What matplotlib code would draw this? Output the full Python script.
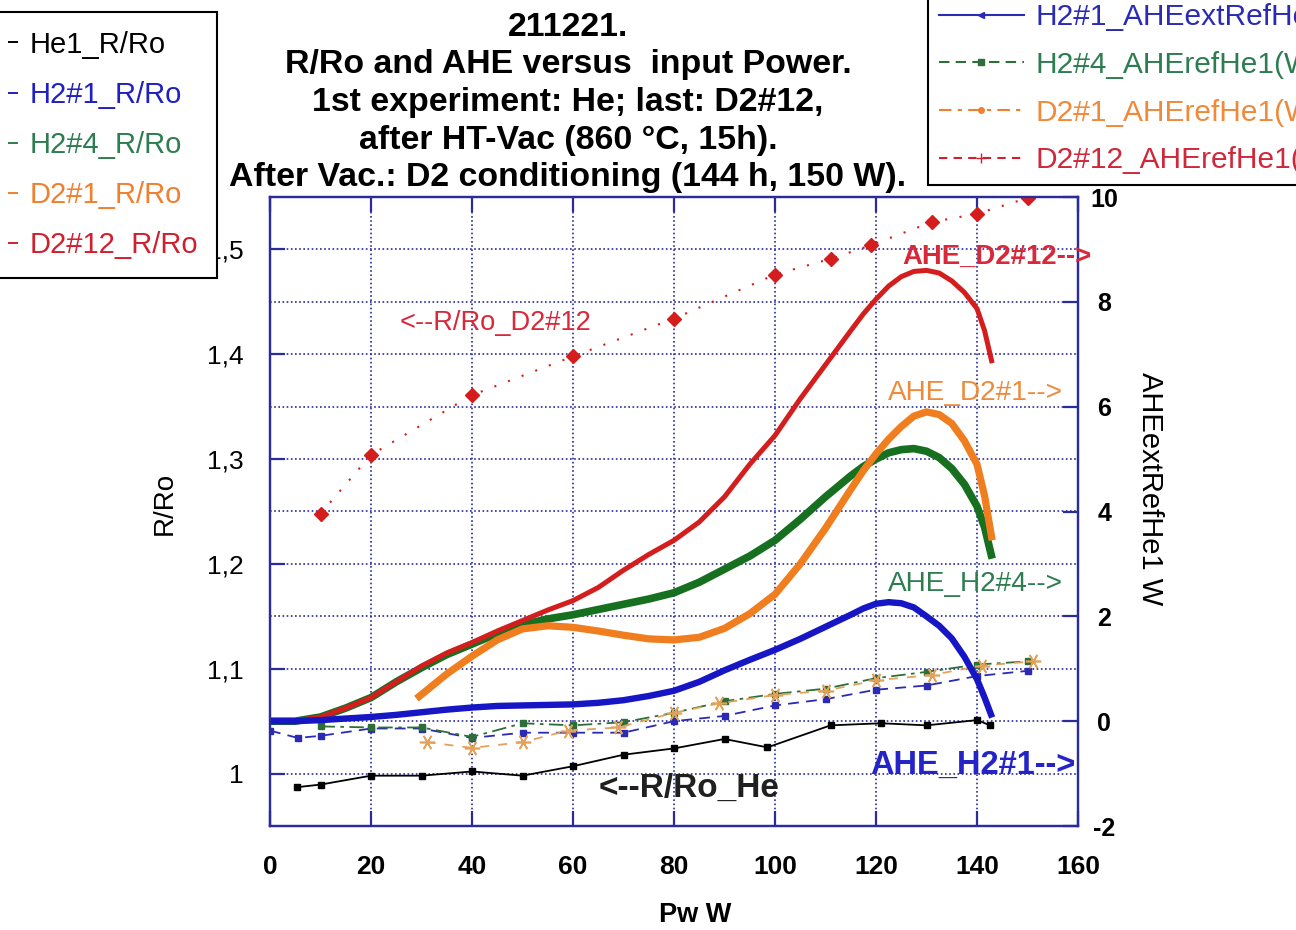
import matplotlib
matplotlib.use("Agg")
import matplotlib.pyplot as plt
from matplotlib.lines import Line2D
from matplotlib.ticker import MultipleLocator, FuncFormatter

plt.rcParams["font.family"] = ["Liberation Sans", "DejaVu Sans"]
plt.rcParams["axes.unicode_minus"] = False

# R/Ro (left axis)
pw_he = [5.3, 10, 20, 30, 40, 50, 60, 70, 80, 90, 98.5, 111, 121, 130, 140, 142.6]
rr_he = [0.987, 0.9895, 0.998, 0.998, 1.002, 0.998, 1.007, 1.018, 1.024, 1.033, 1.025,
         1.046, 1.048, 1.046, 1.051, 1.046]

pw_h2_1 = [0, 5.5, 10, 20, 30, 40, 50, 60, 70, 80, 90, 100, 110, 120, 130, 140, 150]
rr_h2_1 = [1.041, 1.034, 1.036, 1.043, 1.043, 1.034, 1.039, 1.039, 1.039, 1.050, 1.055,
           1.065, 1.071, 1.080, 1.084, 1.093, 1.098]

pw_h2_4 = [10, 20, 30, 40, 50, 60, 70, 80, 90, 100, 110, 120, 130, 140, 150]
rr_h2_4 = [1.045, 1.044, 1.044, 1.035, 1.048, 1.046, 1.049, 1.058, 1.069, 1.076, 1.081,
           1.091, 1.097, 1.104, 1.107]

pw_d2_1 = [31, 40, 50, 59, 69, 80, 89, 100, 110, 120, 131, 141, 151]
rr_d2_1 = [1.030, 1.0245, 1.030, 1.041, 1.044, 1.058, 1.067, 1.075, 1.079, 1.089, 1.094,
           1.103, 1.107]

pw_d2_12 = [10, 20, 40, 60, 80, 100, 111, 119, 131, 140, 150]
rr_d2_12 = [1.248, 1.304, 1.361, 1.398, 1.434, 1.476, 1.491, 1.504, 1.526, 1.534, 1.549]

# AHE (right axis)
pw_ahe = [0, 5, 10, 15, 20, 25, 30, 35, 40, 45, 50, 55, 60, 65, 70, 75, 80, 85, 90, 95,
          100, 105, 110, 115, 117.5, 120, 122.5, 125, 127.5, 130, 132.5, 135, 137.5, 140,
          141.5, 143]
ahe_d2_12 = [0, 0.0, 0.08, 0.25, 0.45, 0.75, 1.05, 1.3, 1.5, 1.72, 1.92, 2.12, 2.3, 2.55,
             2.88, 3.18, 3.45, 3.8, 4.28, 4.9, 5.45, 6.15, 6.8, 7.45, 7.77, 8.05, 8.3,
             8.48, 8.58, 8.6, 8.55, 8.4, 8.18, 7.87, 7.45, 6.83]
ahe_h2_4 = [0, 0.0, 0.08, 0.25, 0.45, 0.75, 1.02, 1.27, 1.47, 1.67, 1.84, 1.95, 2.03, 2.13,
            2.23, 2.33, 2.45, 2.65, 2.9, 3.15, 3.45, 3.85, 4.28, 4.68, 4.86, 5.0, 5.12,
            5.18, 5.2, 5.15, 5.03, 4.82, 4.52, 4.1, 3.7, 3.1]
ahe_h2_1 = [0, 0.0, 0.02, 0.05, 0.08, 0.12, 0.17, 0.22, 0.26, 0.29, 0.3, 0.31, 0.32, 0.35,
            0.4, 0.48, 0.58, 0.75, 0.97, 1.17, 1.36, 1.57, 1.8, 2.03, 2.15, 2.24, 2.27,
            2.25, 2.17, 2.0, 1.82, 1.58, 1.23, 0.8, 0.45, 0.07]
pw_ahe_d2_1 = [29, 35, 40, 45, 50, 55, 60, 65, 70, 75, 80, 85, 90, 95, 100, 105, 110, 115,
               117.5, 120, 122.5, 125, 127.5, 130, 132.5, 135, 137.5, 140, 141.5, 143]
ahe_d2_1 = [0.43, 0.9, 1.24, 1.55, 1.76, 1.82, 1.79, 1.72, 1.64, 1.57, 1.55, 1.6, 1.77, 2.05,
            2.42, 3.0, 3.68, 4.42, 4.78, 5.1, 5.38, 5.62, 5.82, 5.9, 5.85, 5.68, 5.35, 4.9,
            4.3, 3.45]

title = ("211221.\nR/Ro and AHE versus  input Power.\n1st experiment: He; last: D2#12,\n"
         "after HT-Vac (860 °C, 15h).\nAfter Vac.: D2 conditioning (144 h, 150 W).")

BLUE = "#1616c4"
GREEN = "#17701f"
ORANGE = "#f07d1e"
RED = "#d41e1e"
AXC = "#2b2b9a"

fig = plt.figure(figsize=(12.96, 9.30), dpi=100, facecolor="white")
ax = fig.add_axes([270 / 1296, 1 - 826 / 930, 808 / 1296, 629 / 930])
ax2 = ax.twinx()

# left axis series
ax.plot(pw_he, rr_he, color="black", lw=1.3, marker="s", ms=4)
ax.plot(pw_h2_1, rr_h2_1, color="#2a2ab5", lw=1.3, ls=(0, (6, 4)), marker="s", ms=4.5)
ax.plot(pw_h2_4, rr_h2_4, color="#2e6e3a", lw=1.3, ls=(0, (8, 3, 2, 3)), marker="s", ms=4)
ax.plot(pw_d2_1, rr_d2_1, color="#e3a25a", lw=1.3, ls=(0, (5, 5)),
        marker=(6, 2, 90), ms=11, mew=1.2)
ax.plot(pw_d2_12, rr_d2_12, color=RED, lw=1.5, ls=(0, (1, 6)), marker="D", ms=7)

# right axis thick curves
ax2.plot(pw_ahe, ahe_h2_4, color=GREEN, lw=5.5, solid_capstyle="butt",
         solid_joinstyle="round")
ax2.plot(pw_ahe, ahe_d2_12, color=RED, lw=3.6, solid_capstyle="butt",
         solid_joinstyle="round")
ax2.plot(pw_ahe_d2_1, ahe_d2_1, color=ORANGE, lw=5.2, solid_capstyle="butt",
         solid_joinstyle="round")
ax2.plot(pw_ahe, ahe_h2_1, color=BLUE, lw=4.6, solid_capstyle="butt",
         solid_joinstyle="round")

ax.set_xlim(0, 160)
ax.set_ylim(0.95, 1.55)
ax2.set_ylim(-2, 10)

ax.xaxis.set_major_locator(MultipleLocator(20))
ax.yaxis.set_major_locator(MultipleLocator(0.1))
ax.yaxis.set_minor_locator(MultipleLocator(0.05))
ax2.yaxis.set_major_locator(MultipleLocator(2))
ax.yaxis.set_major_formatter(FuncFormatter(
    lambda v, p: "1" if abs(v - 1) < 1e-9 else f"{v:.1f}".replace(".", ",")))

ax.grid(True, which="both", axis="y", color=AXC, ls=(0, (1, 1.5)), lw=1.2)
ax.grid(True, which="major", axis="x", color=AXC, ls=(0, (1, 1.5)), lw=1.2)

for a in (ax, ax2):
    for s in a.spines.values():
        s.set_color(AXC)
        s.set_linewidth(1.6)

ax.tick_params(axis="x", direction="in", length=11, width=1.6, color=AXC, top=True,
               labelsize=19, pad=21)
ax.tick_params(axis="y", which="major", direction="in", length=11, width=1.6, color=AXC,
               labelsize=19, pad=19)
ax.tick_params(axis="y", which="minor", length=0)
ax2.tick_params(axis="y", direction="in", length=11, width=1.6, color=AXC, labelsize=18,
                pad=19)
for t in ax.get_xticklabels():
    t.set_fontweight("bold")
for t in ax2.get_yticklabels():
    t.set_fontweight("bold")
    t.set_horizontalalignment("center")

fig.text(568 / 1296, 1 - 11.5 / 930, title, ha="center", va="top", fontsize=24.4,
         fontweight="bold", linespacing=1.28)
fig.text(165 / 1296, 1 - 503 / 930, "R/Ro", rotation=90, ha="center", va="center",
         fontsize=20)
fig.text(695 / 1296, 1 - 915 / 930, "Pw W", ha="center", va="center", fontsize=19.5,
         fontweight="bold")
fig.text(1150 / 1296, 1 - 489 / 930, "AHEextRefHe1 W", rotation=270, ha="center",
         va="center", fontsize=21)

# annotations
ax.text(25.7, 1.430, "<--R/Ro_D2#12", color="#d8283a", fontsize=19.6, va="center")
ax.text(65, 0.9857, "<--R/Ro_He", color="#202020", fontsize=24, fontweight="bold",
        va="center")
ax2.text(125.3, 8.85, "AHE_D2#12-->", color="#d8283a", fontsize=19.8, fontweight="bold",
         va="center")
ax2.text(122.4, 6.27, "AHE_D2#1-->", color="#ee8a3a", fontsize=20.2, va="center")
ax2.text(122.4, 2.62, "AHE_H2#4-->", color="#2e7d50", fontsize=20.2, va="center")
ax2.text(118.8, -0.85, "AHE_H2#1-->", color="#2424c8", fontsize=23.5, fontweight="bold",
         va="center")

left_labels = ["He1_R/Ro", "H2#1_R/Ro", "H2#4_R/Ro", "D2#1_R/Ro", "D2#12_R/Ro"]
left_colors = ["black", "#2020c0", "#2e7d50", "#f08030", "#d02030"]
left_handles = [Line2D([], [], color=c, lw=1.4) for c in left_colors]
leg1 = fig.legend(handles=left_handles, labels=left_labels, loc="upper right",
                  bbox_to_anchor=(217 / 1296, 1 - 12 / 930), fontsize=21,
                  frameon=True, fancybox=False, edgecolor="black", framealpha=1,
                  borderpad=0.64, labelspacing=0.76, handlelength=0.3,
                  handletextpad=0.42, borderaxespad=0)
leg1.get_frame().set_linewidth(1.5)
for t, c in zip(leg1.get_texts(), left_colors):
    t.set_color(c)

right_labels = ["H2#1_AHEextRefHe1(W)", "H2#4_AHErefHe1(W)", "D2#1_AHErefHe1(W)",
                "D2#12_AHErefHe1(W)"]
right_colors = ["#2a2ab5", "#2e7d50", "#f08a3a", "#d0283a"]
right_handles = [
    Line2D([], [], color=right_colors[0], lw=1.5, marker="<", ms=5),
    Line2D([], [], color="#2e6e3a", lw=1.5, ls=(0, (5, 3)), marker="s", ms=4),
    Line2D([], [], color="#f08030", lw=1.5, ls=(0, (6, 3, 2, 3)), marker="o", ms=4),
    Line2D([], [], color="#d02030", lw=1.5, ls=(0, (4, 3)), marker="+", ms=7),
]
leg2 = fig.legend(handles=right_handles, labels=right_labels, loc="lower left",
                  bbox_to_anchor=(928 / 1296, 1 - 185 / 930), fontsize=21.5,
                  frameon=True, fancybox=False, edgecolor="black", framealpha=1,
                  borderpad=0.36, labelspacing=0.66, handlelength=2.85,
                  handletextpad=0.4, borderaxespad=0)
leg2.get_frame().set_linewidth(1.5)
for t, c in zip(leg2.get_texts(), right_colors):
    t.set_color(c)

fig.savefig("out.png", dpi=100, facecolor="white")
